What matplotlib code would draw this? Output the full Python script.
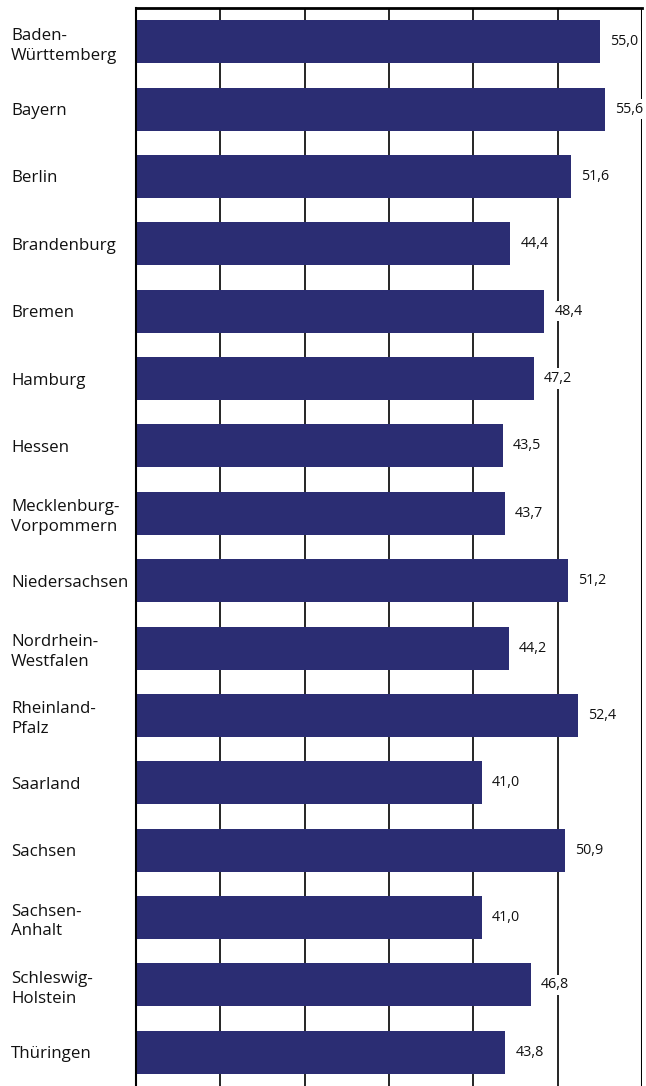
import matplotlib
matplotlib.use("Agg")
import matplotlib.pyplot as plt

categories = ["Baden-\nWürttemberg", "Bayern", "Berlin", "Brandenburg", "Bremen",
              "Hamburg", "Hessen", "Mecklenburg-\nVorpommern", "Niedersachsen",
              "Nordrhein-\nWestfalen", "Rheinland-\nPfalz", "Saarland", "Sachsen",
              "Sachsen-\nAnhalt", "Schleswig-\nHolstein", "Thüringen"]
values = [55.0, 55.6, 51.6, 44.4, 48.4, 47.2, 43.5, 43.7, 51.2, 44.2, 52.4,
          41.0, 50.9, 41.0, 46.8, 43.8]
value_labels = ["55,0", "55,6", "51,6", "44,4", "48,4", "47,2", "43,5", "43,7",
                "51,2", "44,2", "52,4", "41,0", "50,9", "41,0", "46,8", "43,8"]
grid_ticks = [10, 20, 30, 40, 50]

plt.rcParams['font.family'] = ['Open Sans', 'DejaVu Sans']

fig = plt.figure(figsize=(6.46, 10.86), dpi=100)
ax = fig.add_axes([136/646, 0.0, (642-136)/646, 1 - 8/1086])

ypos = list(range(len(categories)))
for t in grid_ticks:
    ax.axvline(t, color='black', lw=1.2, zorder=1)
ax.axvline(60, color='black', lw=2.2, zorder=1)

ax.barh(ypos, values, height=0.64, color='#2b2d73', zorder=2)
for y, v, lab in zip(ypos, values, value_labels):
    ax.text(v + 1.2, y, lab, va='center', ha='left', fontsize=10.3, color='#111111',
            bbox=dict(facecolor='white', edgecolor='none', pad=2), zorder=3)

ax.set_xlim(0, 60)
ax.set_ylim(len(categories) - 0.5, -0.5)
ax.set_yticks(ypos)
ax.set_yticklabels(categories, fontsize=12.2, ha='left', color='#111111', linespacing=1.32)
ax.tick_params(axis='y', length=0, pad=90)
ax.set_xticks([])
for s in ['right', 'bottom']:
    ax.spines[s].set_visible(False)
ax.spines['left'].set_linewidth(1.5)
ax.spines['top'].set_linewidth(2.0)

fig.savefig('out.png', dpi=100)
